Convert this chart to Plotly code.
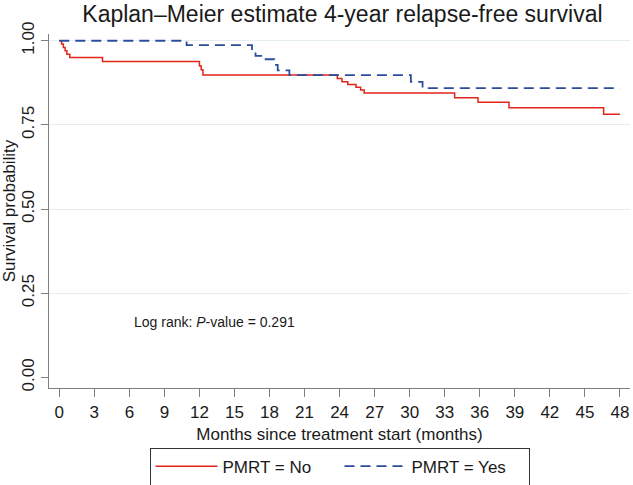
import plotly.graph_objects as go

# PMRT = No (Kaplan-Meier step estimates)
no_time = [0, 0.2, 0.35, 0.5, 0.65, 0.9, 3.7, 12.0, 12.15, 12.3, 23.8, 24.2, 24.7, 25.4, 25.8, 26.1, 33.85, 35.85, 38.5, 46.6, 48.0]
no_surv = [1.0, 0.990, 0.980, 0.970, 0.960, 0.950, 0.938, 0.925, 0.914, 0.898, 0.888, 0.878, 0.870, 0.862, 0.854, 0.845, 0.831, 0.817, 0.801, 0.782, 0.782]

# PMRT = Yes
yes_time = [0, 10.9, 16.5, 16.8, 17.5, 18.4, 18.7, 19.7, 30.1, 31.1, 48.0]
yes_surv = [1.0, 0.987, 0.972, 0.955, 0.945, 0.928, 0.912, 0.898, 0.878, 0.859, 0.859]

x_ticks = list(range(0, 49, 3))
y_ticks = [0.0, 0.25, 0.50, 0.75, 1.00]
y_tick_text = ["0.00", "0.25", "0.50", "0.75", "1.00"]
grid_vals = [0.25, 0.50, 0.75, 1.00]
p_value = 0.291

fig = go.Figure()
fig.add_trace(go.Scatter(x=no_time, y=no_surv, mode="lines", line_shape="hv",
                         name="PMRT = No", line=dict(color="#e3241b", width=1.5)))
fig.add_trace(go.Scatter(x=yes_time, y=yes_surv, mode="lines", line_shape="hv",
                         name="PMRT = Yes", line=dict(color="#2d4c9e", width=1.8, dash="10px,6px")))

fig.add_annotation(x=6.2, y=0.165, xref="x", yref="y", xanchor="left", yanchor="middle",
                   text=f"Log rank: <i>P</i>-value = {p_value}", showarrow=False,
                   font=dict(size=14, color="#1a1a1a"))

font_family = "Liberation Sans, Arial, sans-serif"
fig.update_layout(
    width=633, height=485,
    margin=dict(l=49, r=3, t=34, b=97, autoexpand=False),
    paper_bgcolor="white", plot_bgcolor="white",
    font=dict(family=font_family, color="#1a1a1a", size=17),
    title=dict(text="Kaplan–Meier estimate 4-year relapse-free survival",
               x=0.541, xanchor="center", y=0.972, yanchor="middle",
               font=dict(size=23, color="#1a1a1a")),
    showlegend=True,
    legend=dict(orientation="h", x=0.5, xanchor="center", y=-0.1685, yanchor="top",
                bordercolor="#333333", borderwidth=1, bgcolor="white",
                font=dict(size=17, color="#1a1a1a"), entrywidth=112, entrywidthmode="pixels",
                itemwidth=62),
    xaxis=dict(range=[-0.88, 48.86], tickvals=x_ticks, ticktext=[str(v) for v in x_ticks],
               automargin=False,
               showgrid=False, zeroline=False, showline=True, linecolor="#808080", linewidth=1.3,
               ticks="outside", ticklen=8, tickcolor="#808080", tickwidth=1,
               tickfont=dict(size=17),
               title=dict(text="Months since treatment start (months)", font=dict(size=17), standoff=7)),
    yaxis=dict(range=[-0.0315, 1.02], tickvals=y_ticks, ticktext=y_tick_text, tickangle=-90,
               automargin=False,
               showgrid=False, zeroline=False, showline=True, linecolor="#808080", linewidth=1.3,
               ticks="outside", ticklen=7, tickcolor="#808080", tickwidth=1,
               tickfont=dict(size=17),
               minor=dict(tickvals=grid_vals, showgrid=True, gridcolor="#e4eef0", gridwidth=1, ticklen=0),
               title=dict(text="Survival probability", font=dict(size=17), standoff=3)),
)

fig.write_html("out.html", config={"displayModeBar": False},
               post_script="document.body.style.margin='0';")
